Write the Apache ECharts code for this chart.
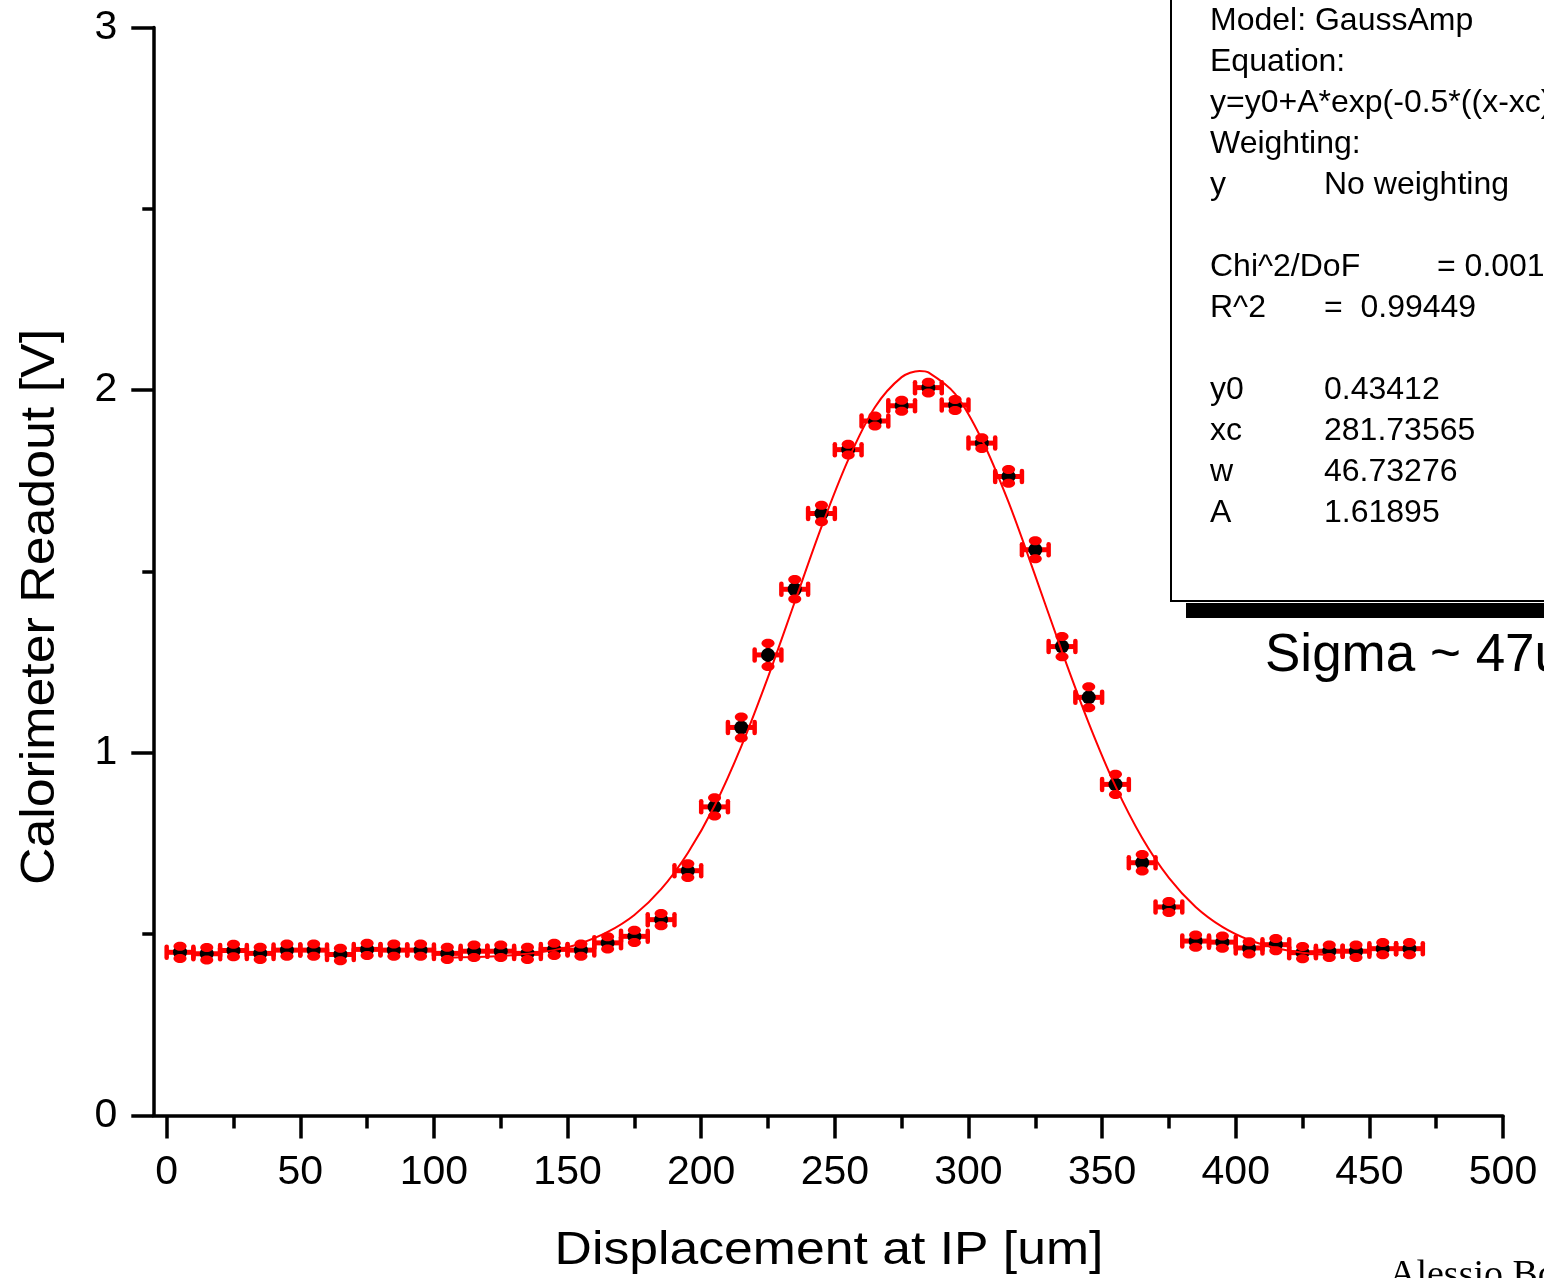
<!DOCTYPE html>
<html>
<head>
<meta charset="utf-8">
<script src="https://cdn.jsdelivr.net/npm/echarts@6/dist/echarts.min.js"></script>
<style>
html,body{margin:0;padding:0;background:#fff;}
#chart{width:1544px;height:1278px;}
</style>
</head>
<body>
<div id="chart"></div>
<script>
// ---- data ----
var xValues = [5,15,25,35,45,55,65,75,85,95,105,115,125,135,145,155,165,175,185,195,205,215,225,235,245,255,265,275,285,295,305,315,325,335,345,355,365,375,385,395,405,415,425,435,445,455,465];
var yValues = [0.450,0.446,0.455,0.447,0.456,0.456,0.444,0.458,0.456,0.456,0.447,0.453,0.453,0.447,0.458,0.456,0.476,0.494,0.540,0.675,0.851,1.070,1.270,1.451,1.660,1.836,1.915,1.957,2.007,1.959,1.854,1.762,1.560,1.293,1.153,0.913,0.697,0.575,0.481,0.478,0.462,0.471,0.449,0.453,0.453,0.460,0.460];
var xErrors = [5,5,5,5,5,5,5,5,5,5,5,5,5,5,5,5,5,5,5,5,5,5,5,5,5,5,5,5,5,5,5,5,5,5,5,5,5,5,5,5,5,5,5,5,5,5,5];
var yErrors = [0.017,0.017,0.017,0.017,0.017,0.017,0.017,0.017,0.017,0.017,0.017,0.017,0.017,0.017,0.017,0.017,0.017,0.017,0.017,0.019,0.025,0.029,0.032,0.027,0.023,0.015,0.014,0.015,0.015,0.015,0.015,0.019,0.025,0.028,0.029,0.028,0.023,0.015,0.017,0.017,0.017,0.017,0.017,0.017,0.017,0.017,0.017];
var fitX = [105,115,125,135,145,155,165,175,185,195,205,215,225,235,245,255,265,275,281.7,285,295,305,315,325,335,345,355,365,375,385,395,405,415,425,435];
var fitY = [0.435,0.437,0.440,0.446,0.456,0.475,0.506,0.553,0.624,0.724,0.854,1.018,1.209,1.416,1.623,1.808,1.953,2.036,2.053,2.049,1.990,1.864,1.691,1.488,1.279,1.082,0.908,0.765,0.655,0.575,0.520,0.484,0.462,0.449,0.442];
var xMajorTicks = [0,50,100,150,200,250,300,350,400,450,500];
var xMinorTicks = [25,75,125,175,225,275,325,375,425,475];
var boxLines = [
  ['Model: GaussAmp', ''],
  ['Equation:', ''],
  ['y=y0+A*exp(-0.5*((x-xc)/w)^2)', ''],
  ['Weighting:', ''],
  ['y', 'No weighting'],
  ['', ''],
  ['Chi^2/DoF', '= 0.001'],
  ['R^2', '=  0.99449'],
  ['', ''],
  ['y0', '0.43412'],
  ['xc', '281.73565'],
  ['w', '46.73276'],
  ['A', '1.61895']
];
var xTitle = 'Displacement at IP [um]';
var yTitle = 'Calorimeter Readout [V]';
var noteText = 'Sigma ~ 47um';
var authorText = 'Alessio Bosco';

// ---- build ----
var pts = [];
for (var i = 0; i < xValues.length; i++) pts.push([xValues[i], yValues[i], xErrors[i], yErrors[i]]);
var fitData = [];
for (var j = 0; j < fitX.length; j++) fitData.push([fitX[j], fitY[j]]);

var SANS = '"Liberation Sans", Arial, Helvetica, sans-serif';
var RED = '#ff0000';

function renderErr(params, api) {
  var x = api.value(0), y = api.value(1), ex = api.value(2), ey = api.value(3);
  var c = api.coord([x, y]);
  var l = api.coord([x - ex, y]), r = api.coord([x + ex, y]);
  var t = api.coord([x, y + ey]), b = api.coord([x, y - ey]);
  var st = function (w, cap) { return { stroke: RED, lineWidth: w, lineCap: cap || 'butt' }; };
  return {
    type: 'group',
    children: [
      { type: 'line', shape: { x1: l[0], y1: c[1], x2: r[0], y2: c[1] }, style: st(5) },
      { type: 'line', shape: { x1: c[0], y1: t[1], x2: c[0], y2: b[1] }, style: st(4.5) },
      { type: 'circle', shape: { cx: c[0], cy: c[1], r: 7 }, style: { fill: '#000' } },
      { type: 'line', shape: { x1: l[0], y1: c[1] - 5.5, x2: l[0], y2: c[1] + 5.5 }, style: st(4.5, 'round') },
      { type: 'line', shape: { x1: r[0], y1: c[1] - 5.5, x2: r[0], y2: c[1] + 5.5 }, style: st(4.5, 'round') },
      { type: 'ellipse', shape: { cx: c[0], cy: t[1], rx: 6.5, ry: 4.5 }, style: { fill: RED } },
      { type: 'ellipse', shape: { cx: c[0], cy: b[1], rx: 6.5, ry: 4.5 }, style: { fill: RED } }
    ]
  };
}

var graphics = [];
graphics.push({ type: 'rect', shape: { x: 1186, y: 603, width: 420, height: 15 }, style: { fill: '#000' }, z: 10 });
graphics.push({ type: 'rect', shape: { x: 1171, y: -3, width: 420, height: 604 }, style: { fill: '#fff', stroke: '#000', lineWidth: 2 }, z: 10 });
var lineY0 = 21, lineStep = 41;
for (var k = 0; k < boxLines.length; k++) {
  var yy = lineY0 + k * lineStep;
  if (boxLines[k][0]) graphics.push({ type: 'text', x: 1210, y: yy, z: 11, style: { text: boxLines[k][0], font: '32px ' + SANS, fill: '#000', verticalAlign: 'middle', align: 'left' } });
  if (boxLines[k][1]) {
    var cx = (boxLines[k][0] === 'Chi^2/DoF') ? 1437 : 1324;
    graphics.push({ type: 'text', x: cx, y: yy, z: 11, style: { text: boxLines[k][1], font: '32px ' + SANS, fill: '#000', verticalAlign: 'middle', align: 'left' } });
  }
}
graphics.push({ type: 'text', x: 1265, y: 656, z: 11, style: { text: noteText, font: '53px ' + SANS, fill: '#000', verticalAlign: 'middle', align: 'left' } });
graphics.push({ type: 'text', x: 1389, y: 1276, z: 11, style: { text: authorText, font: '38px "Liberation Serif", "Times New Roman", serif', fill: '#000', verticalAlign: 'middle', align: 'left' } });
graphics.push({ type: 'text', x: 829, y: 1251, scaleX: 1.1, z: 11, style: { text: xTitle, font: '47px ' + SANS, fill: '#000', verticalAlign: 'middle', align: 'center' } });
graphics.push({ type: 'text', x: 41, y: 607, rotation: Math.PI / 2, scaleX: 1.08, z: 11, style: { text: yTitle, font: '48px ' + SANS, fill: '#000', verticalAlign: 'middle', align: 'center' } });

var chart = echarts.init(document.getElementById('chart'), null, { renderer: 'canvas' });
chart.setOption({
  backgroundColor: '#fff',
  animation: false,
  grid: { left: 153.3, right: 41, top: 27.5, bottom: 162.5, containLabel: false },
  xAxis: [{
    type: 'value', min: -5, max: 500,
    axisLine: { show: true, onZero: false, lineStyle: { color: '#000', width: 3.5 } },
    axisTick: { show: true, customValues: xMajorTicks, length: 23, lineStyle: { color: '#000', width: 3.5 } },
    axisLabel: { show: true, customValues: xMajorTicks, margin: 37, fontSize: 41, fontFamily: SANS, color: '#000' },
    splitLine: { show: false }
  }, {
    type: 'value', min: -5, max: 500, position: 'bottom',
    axisLine: { show: false },
    axisTick: { show: true, customValues: xMinorTicks, length: 13, lineStyle: { color: '#000', width: 3.5 } },
    axisLabel: { show: false },
    splitLine: { show: false }
  }],
  yAxis: {
    type: 'value', min: 0, max: 3, interval: 1,
    axisLine: { show: true, onZero: false, lineStyle: { color: '#000', width: 3.5 } },
    axisTick: { show: true, length: 22, lineStyle: { color: '#000', width: 3.5 } },
    minorTick: { show: true, splitNumber: 2, length: 11, lineStyle: { color: '#000', width: 3.5 } },
    axisLabel: { margin: 36, fontSize: 41, fontFamily: SANS, color: '#000' },
    splitLine: { show: false }, minorSplitLine: { show: false }
  },
  series: [{
    type: 'custom', name: 'data', xAxisIndex: 0, yAxisIndex: 0,
    renderItem: renderErr, data: pts, z: 2, clip: false
  }, {
    type: 'line', name: 'fit', xAxisIndex: 0, data: fitData, smooth: 0.3, showSymbol: false,
    lineStyle: { color: RED, width: 2 }, z: 3
  }],
  graphic: graphics
});
</script>
</body>
</html>
